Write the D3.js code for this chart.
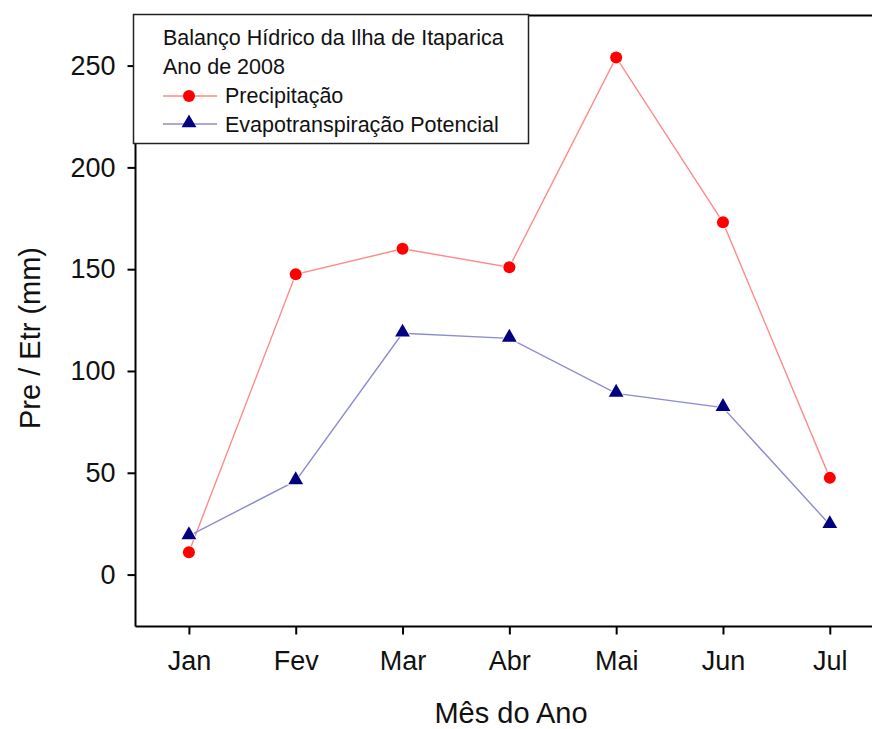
<!DOCTYPE html>
<html>
<head>
<meta charset="utf-8">
<script src="https://cdn.jsdelivr.net/npm/d3@7"></script>
<style>
  html, body { margin: 0; padding: 0; background: #fff; }
  svg { display: block; }
  text { font-family: "Liberation Sans", Arial, sans-serif; fill: #111; }
</style>
</head>
<body>
<svg id="chart" width="872" height="729"></svg>
<script>
// Water balance, Ilha de Itaparica, 2008
const months = ["Jan", "Fev", "Mar", "Abr", "Mai", "Jun", "Jul"];
const precipitacao = [11, 147.5, 160, 151, 254, 173, 47.5];
const evapotranspiracao = [19, 46, 118.5, 116, 89, 82, 24.5];
const yTicks = [0, 50, 100, 150, 200, 250];

const svg = d3.select("#chart");
const plotLeft = 135.5, plotTop = 15.5, plotRight = 872, plotBottom = 626.5;

const x = d3.scaleLinear().domain([-0.5, 6.4]).range([plotLeft, 189 + 6.4 * 106.8]);
const y = d3.scaleLinear().domain([-25.5, 274.6]).range([plotBottom, plotTop]);

// frame: top edge plus the two axes
svg.append("line").attr("x1", plotLeft).attr("x2", plotRight).attr("y1", plotTop).attr("y2", plotTop)
  .attr("stroke", "#000").attr("stroke-width", 2);

const tickFont = "27px";
const yAxis = d3.axisLeft(y).tickValues(yTicks).tickSize(8).tickPadding(12).tickFormat(d3.format("d"));
const gy = svg.append("g").attr("transform", `translate(${plotLeft},0)`).call(yAxis);
gy.select(".domain").attr("stroke-width", 2).attr("d", `M0,${plotTop}V${plotBottom}`);
gy.selectAll(".tick line").attr("stroke-width", 2);
gy.selectAll(".tick text").style("font-size", tickFont).style("font-family", "'Liberation Sans', Arial, sans-serif").attr("fill", "#111");

const xAxis = d3.axisBottom(x).tickValues(d3.range(months.length)).tickFormat(i => months[i]).tickSize(8).tickPadding(16);
const gx = svg.append("g").attr("transform", `translate(0,${plotBottom})`).call(xAxis);
gx.select(".domain").attr("stroke-width", 2).attr("d", `M${plotLeft},0H${plotRight}`);
gx.selectAll(".tick line").attr("stroke-width", 2);
gx.selectAll(".tick text").style("font-size", tickFont).style("font-family", "'Liberation Sans', Arial, sans-serif").attr("fill", "#111");

// axis titles
svg.append("text").attr("x", 511).attr("y", 723).attr("text-anchor", "middle")
  .style("font-size", "29px").text("Mês do Ano");
svg.append("text").attr("transform", "translate(40,338) rotate(-90)").attr("text-anchor", "middle")
  .style("font-size", "29px").text("Pre / Etr (mm)");

// series
const line = d3.line().x((d, i) => x(i)).y(d => y(d));
svg.append("path").datum(precipitacao).attr("d", line)
  .attr("fill", "none").attr("stroke", "#ff8a8a").attr("stroke-width", 1.4);
svg.append("path").datum(evapotranspiracao).attr("d", line)
  .attr("fill", "none").attr("stroke", "#8c8cd0").attr("stroke-width", 1.4);

const tri = d3.symbol().type(d3.symbolTriangle).size(95);
svg.append("g").selectAll("path").data(evapotranspiracao).join("path")
  .attr("d", tri)
  .attr("transform", (d, i) => `translate(${x(i)},${y(d) - 1})`)
  .attr("fill", "#000080").attr("stroke", "#fff").attr("stroke-width", 1.5).attr("paint-order", "stroke");
svg.append("g").selectAll("circle").data(precipitacao).join("circle")
  .attr("cx", (d, i) => x(i)).attr("cy", d => y(d)).attr("r", 6)
  .attr("fill", "#ff0000").attr("stroke", "#fff").attr("stroke-width", 1.5).attr("paint-order", "stroke");

// legend box
const lg = svg.append("g");
const legendFont = "21.5px";
lg.append("rect").attr("x", 133.5).attr("y", 14.5).attr("width", 395).attr("height", 129)
  .attr("fill", "#fff").attr("stroke", "#222").attr("stroke-width", 1.5);
lg.append("text").attr("x", 163).attr("y", 45).style("font-size", legendFont).text("Balanço Hídrico da Ilha de Itaparica");
lg.append("text").attr("x", 163).attr("y", 74).style("font-size", legendFont).text("Ano de 2008");
lg.append("line").attr("x1", 163).attr("x2", 217).attr("y1", 96).attr("y2", 96).attr("stroke", "#ff8a8a").attr("stroke-width", 1.4);
lg.append("circle").attr("cx", 189).attr("cy", 96).attr("r", 6).attr("fill", "#ff0000");
lg.append("text").attr("x", 225).attr("y", 103).style("font-size", legendFont).text("Precipitação");
lg.append("line").attr("x1", 163).attr("x2", 217).attr("y1", 124).attr("y2", 124).attr("stroke", "#8c8cd0").attr("stroke-width", 1.4);
lg.append("path").attr("d", tri).attr("transform", "translate(189,123)").attr("fill", "#000080");
lg.append("text").attr("x", 225).attr("y", 132).style("font-size", legendFont).text("Evapotranspiração Potencial");
</script>
</body>
</html>
